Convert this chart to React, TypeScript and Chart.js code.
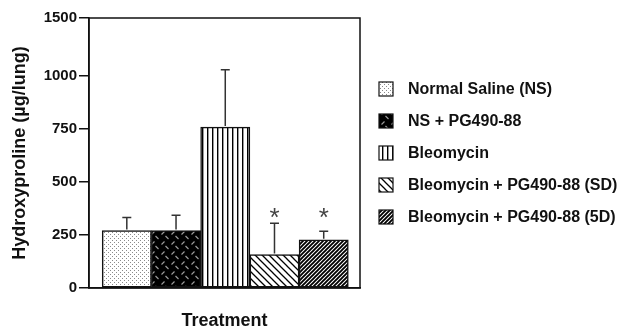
import React, { useEffect, useRef } from "react";
import { Chart, registerables } from "chart.js";

Chart.register(...registerables);

const CATEGORIES = [
  "Normal Saline (NS)",
  "NS + PG490-88",
  "Bleomycin",
  "Bleomycin + PG490-88 (SD)",
  "Bleomycin + PG490-88 (5D)",
];
const VALUES = [270, 270, 757, 157, 227];
const ERRORS = [62, 72, 270, 148, 40];
const SIGNIFICANT = [false, false, false, true, true];
const PATTERNS = ["stipple", "plate", "vertical", "backslash", "denseslash"];
const TICK_VALUES = [0, 250, 500, 750, 1000, 1270];
const TICK_LABELS = ["0", "250", "500", "750", "1000", "1500"];
const Y_TITLE = "Hydroxyproline (µg/lung)";
const X_TITLE = "Treatment";

const FONT = "'Liberation Sans', Arial, Helvetica, sans-serif";

function makePattern(kind: string): CanvasPattern | string {
  const tile = document.createElement("canvas");
  let w = 4, h = 4;
  if (kind === "stipple") { w = 4; h = 4; }
  if (kind === "plate") { w = 10; h = 10; }
  if (kind === "vertical") { w = 5; h = 2; }
  if (kind === "backslash") { w = 7; h = 7; }
  if (kind === "denseslash") { w = 4; h = 4; }
  tile.width = w; tile.height = h;
  const c = tile.getContext("2d")!;
  c.fillStyle = "#fff";
  c.fillRect(0, 0, w, h);
  if (kind === "stipple") {
    c.fillStyle = "#8a8a8a";
    c.fillRect(0, 0, 1, 1);
    c.fillRect(2, 2, 1, 1);
  } else if (kind === "plate") {
    c.fillStyle = "#000";
    c.fillRect(0, 0, w, h);
    c.strokeStyle = "#9a9a9a";
    c.lineWidth = 1.2;
    c.beginPath();
    c.moveTo(1.5, 4.5); c.lineTo(4.5, 1.5);
    c.moveTo(5.5, 6); c.lineTo(8.5, 9);
    c.stroke();
  } else if (kind === "vertical") {
    c.fillStyle = "#000";
    c.fillRect(2, 0, 1.4, h);
  } else if (kind === "backslash") {
    c.strokeStyle = "#000";
    c.lineWidth = 1.3;
    c.beginPath();
    c.moveTo(-1, -1); c.lineTo(w + 1, h + 1);
    c.moveTo(-1, h - 1); c.lineTo(1, h + 1);
    c.moveTo(w - 1, -1); c.lineTo(w + 1, 1);
    c.stroke();
  } else if (kind === "denseslash") {
    c.strokeStyle = "#000";
    c.lineWidth = 1.9;
    c.beginPath();
    c.moveTo(-1, h + 1); c.lineTo(w + 1, -1);
    c.moveTo(-1, 1); c.lineTo(1, -1);
    c.moveTo(w - 1, h + 1); c.lineTo(w + 1, h - 1);
    c.stroke();
  }
  return c.createPattern(tile, "repeat") || "#888";
}

export default function App() {
  const ref = useRef<HTMLCanvasElement | null>(null);

  useEffect(() => {
    if (!ref.current) return;
    const fills = PATTERNS.map(makePattern);

    const decor = {
      id: "decor",
      afterDatasetsDraw(chart: any) {
        const { ctx, chartArea, scales } = chart;
        const xs = scales.x, ys = scales.y;
        ctx.save();
        // error bars
        ctx.strokeStyle = "#333";
        ctx.lineWidth = 1.5;
        VALUES.forEach((v, i) => {
          const x = xs.getPixelForValue(i);
          const yb = ys.getPixelForValue(v);
          const yt = ys.getPixelForValue(v + ERRORS[i]);
          ctx.beginPath();
          ctx.moveTo(x, yb - 1);
          ctx.lineTo(x, yt);
          ctx.moveTo(x - 4.5, yt);
          ctx.lineTo(x + 4.5, yt);
          ctx.stroke();
        });
        // asterisks
        let topPix = Infinity;
        VALUES.forEach((v, i) => {
          if (SIGNIFICANT[i]) topPix = Math.min(topPix, ys.getPixelForValue(v + ERRORS[i]));
        });
        ctx.fillStyle = "#444";
        ctx.font = `26px ${FONT}`;
        ctx.textAlign = "center";
        ctx.textBaseline = "alphabetic";
        VALUES.forEach((v, i) => {
          if (!SIGNIFICANT[i]) return;
          ctx.fillText("*", xs.getPixelForValue(i), topPix - 12 + 15);
        });
        // frame
        ctx.strokeStyle = "#111";
        ctx.lineWidth = 1.5;
        ctx.strokeRect(chartArea.left, chartArea.top, chartArea.right - chartArea.left, chartArea.bottom - chartArea.top);
        ctx.restore();
      },
      afterDraw(chart: any) {
        const { ctx } = chart;
        ctx.save();
        ctx.font = `bold 16px ${FONT}`;
        ctx.textBaseline = "middle";
        ctx.textAlign = "left";
        CATEGORIES.forEach((label, i) => {
          const cy = 89 + i * 32;
          ctx.fillStyle = fills[i] as any;
          ctx.fillRect(379, cy - 7, 14, 14);
          ctx.strokeStyle = "#111";
          ctx.lineWidth = 1.2;
          ctx.strokeRect(379, cy - 7, 14, 14);
          ctx.fillStyle = "#111";
          ctx.fillText(label, 408, cy + 1);
        });
        ctx.restore();
      },
    };

    const chart = new Chart(ref.current, {
      type: "bar",
      data: {
        datasets: [
          {
            label: "Hydroxyproline",
            data: VALUES.map((v, i) => ({ x: i, y: v })),
            backgroundColor: fills as any,
            borderColor: "#111",
            borderWidth: 1.5,
            borderSkipped: false,
            categoryPercentage: 1,
            barPercentage: 1,
          } as any,
        ],
      },
      options: {
        animation: false,
        responsive: true,
        maintainAspectRatio: false,
        layout: { padding: { top: 18, right: 259, left: 0, bottom: 0 } },
        plugins: { legend: { display: false }, tooltip: { enabled: false } },
        scales: {
          x: {
            type: "linear",
            offset: false,
            min: -0.768,
            max: 4.737,
            afterBuildTicks(scale: any) {
              scale.ticks = VALUES.map((_v, i) => ({ value: i }));
            },
            grid: { display: false, offset: false },
            border: { display: true, color: "#111", width: 1.5 },
            ticks: { display: false },
            title: {
              display: true,
              text: X_TITLE,
              color: "#111",
              font: { family: FONT, size: 18, weight: "bold", lineHeight: 1 },
              padding: { top: 0, bottom: 0.5 },
            },
            afterFit(scale: any) { scale.height = 43; },
          },
          y: {
            type: "linear",
            min: 0,
            max: 1270,
            afterBuildTicks(scale: any) {
              scale.ticks = TICK_VALUES.map((v) => ({ value: v }));
            },
            grid: { display: true, drawOnChartArea: false, drawTicks: true, tickLength: 10, color: "#111", lineWidth: 1.5 },
            border: { display: true, color: "#111", width: 1.5 },
            ticks: {
              padding: 2,
              color: "#111",
              font: { family: FONT, size: 15, weight: "bold" },
              callback: (_v: any, idx: number) => TICK_LABELS[idx],
            },
            title: {
              display: true,
              text: Y_TITLE,
              color: "#111",
              font: { family: FONT, size: 18, weight: "bold" },
              padding: { top: 9.2, bottom: 0 },
            },
            afterFit(scale: any) { scale.width = 89; },
          },
        },
      },
      plugins: [decor],
    });
    return () => chart.destroy();
  }, []);

  return (
    <div style={{ position: "absolute", left: 0, top: 0, width: 619, height: 331, background: "#fff" }}>
      <canvas ref={ref} />
    </div>
  );
}
